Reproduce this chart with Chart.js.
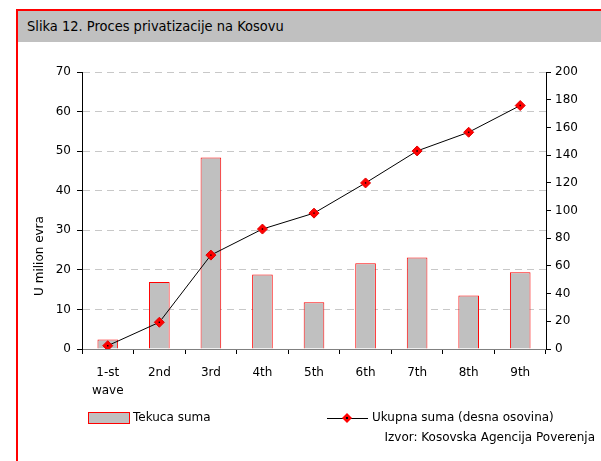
<!DOCTYPE html>
<html>
<head>
<meta charset="utf-8">
<script src="https://cdn.jsdelivr.net/npm/chart.js@4/dist/chart.umd.min.js"></script>
<style>
    html, body { margin: 0; padding: 0; background: #fff; overflow: hidden; }
    #frame {
        position: absolute; left: 16px; top: 9px; width: 600px; height: 470px;
        border: 2px solid #ff0000; box-sizing: border-box;
    }
    #header {
        position: absolute; left: 18px; top: 11px; width: 590px; height: 31px;
        background: #c0c0c0; font-family: "DejaVu Sans Condensed", "DejaVu Sans", sans-serif;
        font-size: 14.5px; color: #000; line-height: 31px; padding-left: 9px; box-sizing: border-box;
    }
    #wrap { position: absolute; left: 0; top: 42px; width: 601px; height: 419px; }
</style>
</head>
<body>
<div id="frame"></div>
<div id="header">Slika 12. Proces privatizacije na Kosovu</div>
<div id="wrap"><canvas id="chart"></canvas></div>
<script>
const waves = [["1-st", "wave"], "2nd", "3rd", "4th", "5th", "6th", "7th", "8th", "9th"];
const tekucaSuma = [2.4, 16.9, 48.4, 18.8, 11.8, 21.7, 23.1, 13.5, 19.4];
const ukupnaSuma = [2.4, 19.3, 67.8, 86.6, 98.1, 119.9, 143.0, 156.5, 175.8];
const leftTicks = [0, 10, 20, 30, 40, 50, 60, 70];
const rightTicks = [0, 20, 40, 60, 80, 100, 120, 140, 160, 180, 200];

const FONT = "'DejaVu Sans', sans-serif";

// legend, source line and left axis title drawn by hand to match the original placement
const extrasPlugin = {
    id: "extras",
    afterDraw(chart) {
        const ctx = chart.ctx;
        ctx.save();
        ctx.font = "12px " + FONT;
        ctx.textBaseline = "middle";

        ctx.save();
        ctx.translate(40, 214);
        ctx.rotate(-Math.PI / 2);
        ctx.textAlign = "center";
        ctx.fillStyle = "#000";
        ctx.fillText("U milion evra", 0, 0);
        ctx.restore();

        const y = 376;
        ctx.fillStyle = "#c0c0c0";
        ctx.fillRect(88, y - 5, 42, 10);
        ctx.strokeStyle = "#ff0000";
        ctx.lineWidth = 1;
        ctx.strokeRect(88.5, y - 5.5, 41, 11);
        ctx.fillStyle = "#000";
        ctx.fillText("Tekuca suma", 133, y);

        ctx.strokeStyle = "#000";
        ctx.beginPath();
        ctx.moveTo(327, y + 0.5);
        ctx.lineTo(368, y + 0.5);
        ctx.stroke();
        ctx.fillStyle = "#ff0000";
        ctx.beginPath();
        ctx.moveTo(347, y - 5);
        ctx.lineTo(352, y);
        ctx.lineTo(347, y + 5);
        ctx.lineTo(342, y);
        ctx.closePath();
        ctx.fill();
        ctx.fillStyle = "#000";
        ctx.fillRect(346, y - 1, 2, 2);
        ctx.fillText("Ukupna suma (desna osovina)", 372, y);

        ctx.textAlign = "right";
        ctx.fillText("Izvor: Kosovska Agencija Poverenja", 595, y + 20);
        ctx.restore();
    }
};

new Chart(document.getElementById("chart").getContext("2d"), {
    type: "bar",
    data: {
        labels: waves,
        datasets: [
            {
                type: "line",
                label: "Ukupna suma (desna osovina)",
                data: ukupnaSuma,
                yAxisID: "yRight",
                borderColor: "#000",
                borderWidth: 1,
                pointStyle: "rectRot",
                pointRadius: 5,
                pointBackgroundColor: "#ff0000",
                pointBorderColor: "#e00000",
                pointBorderWidth: 1,
                tension: 0,
                order: 1
            },
            {
                type: "line",
                label: "dot",
                data: ukupnaSuma,
                yAxisID: "yRight",
                showLine: false,
                pointStyle: "rect",
                pointRadius: 1,
                pointBackgroundColor: "#000",
                pointBorderColor: "#000",
                pointBorderWidth: 0,
                order: 0
            },
            {
                label: "Tekuca suma",
                data: tekucaSuma,
                yAxisID: "yLeft",
                backgroundColor: "#c0c0c0",
                borderColor: "#ff0000",
                borderWidth: 1,
                borderSkipped: "bottom",
                barPercentage: 0.4,
                categoryPercentage: 1,
                order: 2
            }
        ]
    },
    options: {
        responsive: true,
        maintainAspectRatio: false,
        animation: false,
        events: [],
        layout: { padding: { left: 17, right: 0, top: 30, bottom: 57 } },
        plugins: {
            legend: { display: false },
            tooltip: { enabled: false }
        },
        scales: {
            x: {
                offset: true,
                afterFit(s) { s.height = 55; },
                grid: {
                    offset: true,
                    drawOnChartArea: false,
                    drawTicks: true,
                    tickLength: 5,
                    tickColor: "#000"
                },
                border: { color: "#808080", width: 1 },
                ticks: {
                    color: "#000",
                    font: { family: FONT, size: 12, lineHeight: 1.5 },
                    padding: 10,
                    maxRotation: 0
                }
            },
            yLeft: {
                position: "left",
                min: 0,
                max: 70,
                afterFit(s) { s.width = 65; },
                afterBuildTicks(s) { s.ticks = leftTicks.map(v => ({ value: v })); },
                grid: {
                    color: "#c8c8c8",
                    tickColor: "#000",
                    tickLength: 5,
                    tickBorderDash: []
                },
                border: { color: "#000", width: 1, dash: [7, 5] },
                ticks: { color: "#000", font: { family: FONT, size: 12 }, padding: 6 }
            },
            yRight: {
                position: "right",
                min: 0,
                max: 200,
                afterFit(s) { s.width = 55; },
                afterBuildTicks(s) { s.ticks = rightTicks.map(v => ({ value: v })); },
                grid: {
                    drawOnChartArea: false,
                    tickColor: "#000",
                    tickLength: 5
                },
                border: { color: "#000", width: 1 },
                ticks: { color: "#000", font: { family: FONT, size: 12 }, padding: 4 }
            }
        }
    },
    plugins: [extrasPlugin]
});
</script>
</body>
</html>
